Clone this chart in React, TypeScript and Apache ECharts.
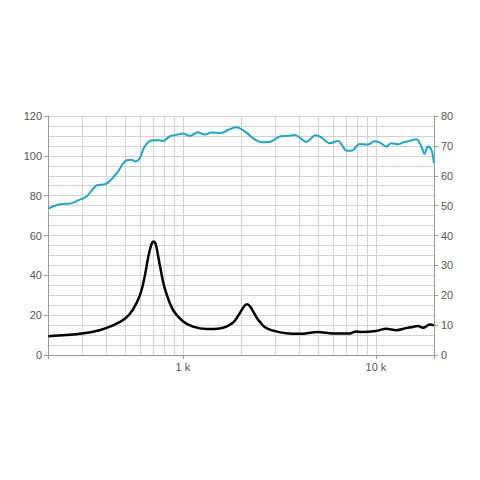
import React, { useEffect, useRef } from "react";
import * as echarts from "echarts";

// Frequency response (SPL, dB, left axis)
const splFreq = [201, 234, 259, 292, 318, 356, 393, 417, 460, 509, 541, 569, 597, 634, 686, 742, 788, 853, 924, 1000, 1083, 1197, 1295, 1403, 1581, 1711, 1891, 1970, 2130, 2351, 2599, 2871, 3170, 3500, 3792, 4024, 4357, 4872, 5213, 5756, 6357, 7025, 7460, 8238, 9098, 9845, 10450, 11320, 12020, 13010, 13800, 14950, 16190, 17190, 17880, 18590, 19360, 19970];
const splValues = [73.5, 75.8, 76, 78, 79.7, 85, 85.7, 87.2, 92, 97.7, 98, 97.2, 98.8, 104.7, 107.7, 107.8, 107.5, 109.7, 110.5, 111.2, 110, 111.8, 110.7, 111.7, 111.5, 113, 114.3, 113.8, 111.8, 108.3, 106.8, 107.2, 109.7, 110, 110.5, 109.2, 107, 110.3, 109.3, 106.3, 107.5, 102.7, 102.5, 106, 105.7, 107.3, 106.8, 104.7, 106.3, 105.8, 106.7, 107.5, 108.3, 104.7, 101, 104.7, 103.3, 96.3];

// Impedance (ohm, right axis)
const impFreq = [201, 249, 300, 370, 434, 500, 551, 600, 634, 660, 685, 705, 722, 740, 765, 804, 887, 1000, 1127, 1321, 1549, 1816, 1970, 2060, 2140, 2220, 2330, 2448, 2650, 3000, 3433, 4024, 5007, 5986, 7305, 7913, 8394, 10000, 11320, 12760, 14360, 15550, 16500, 17530, 19040, 19970];
const impValues = [6.3, 6.7, 7.2, 8.3, 9.9, 12.1, 15.2, 20.2, 26.3, 32.5, 36.8, 38.0, 37.2, 34.0, 29.0, 22.5, 15.2, 11.3, 9.5, 8.7, 8.9, 10.8, 14.0, 16.0, 17.0, 16.4, 14.2, 11.9, 9.4, 8.0, 7.3, 7.1, 7.7, 7.2, 7.2, 7.9, 7.7, 8.0, 8.8, 8.3, 9.0, 9.4, 9.7, 9.1, 10.2, 9.9];

const minorFreqs = [300, 400, 500, 600, 700, 800, 900, 2000, 3000, 4000, 5000, 6000, 7000, 8000, 9000];
const xLabels: Record<number, string> = { 1000: "1 k", 10000: "10 k" };

const gridColor = "#d2d2d2";
const textStyle = { color: "#555555", fontFamily: "Liberation Sans, Arial, sans-serif", fontSize: 11 };

export default function App() {
  const ref = useRef<HTMLDivElement>(null);
  useEffect(() => {
    if (!ref.current) return;
    const chart = echarts.init(ref.current, null, { renderer: "svg" });
    chart.setOption({
      animation: false,
      backgroundColor: "#ffffff",
      grid: { left: 48, right: 46, top: 116, bottom: 125 },
      xAxis: {
        type: "log",
        logBase: 10,
        min: 200,
        max: 20000,
        axisLine: { show: true, lineStyle: { color: "#999" } },
        axisTick: { show: true, length: 4, lineStyle: { color: "#999" } },
        axisLabel: {
          ...textStyle,
          margin: 6,
          formatter: (v: number) => xLabels[Math.round(v)] ?? "",
        },
        splitLine: { show: true, lineStyle: { color: gridColor, width: 1 } },
        minorTick: { show: false },
      },
      yAxis: [
        {
          type: "value",
          min: 0,
          max: 120,
          interval: 20,
          position: "left",
          axisLine: { show: true, lineStyle: { color: "#999" } },
          axisTick: { show: true, length: 4, lineStyle: { color: "#999" } },
          axisLabel: { ...textStyle, margin: 6 },
          splitLine: { show: true, lineStyle: { color: gridColor, width: 1 } },
          minorTick: { show: false, splitNumber: 4 },
          minorSplitLine: { show: true, lineStyle: { color: gridColor, width: 1 } },
        },
        {
          type: "value",
          min: 0,
          max: 80,
          interval: 10,
          position: "right",
          axisLine: { show: true, lineStyle: { color: "#999" } },
          axisTick: { show: true, length: 4, lineStyle: { color: "#999" } },
          axisLabel: { ...textStyle, margin: 7 },
          splitLine: { show: false },
        },
      ],
      series: [
        {
          name: "SPL",
          type: "line",
          yAxisIndex: 0,
          data: splFreq.map((f, i) => [f, splValues[i]]),
          showSymbol: false,
          smooth: 0.35,
          lineStyle: { color: "#1fa5c9", width: 2 },
          z: 3,
          markLine: {
            silent: true,
            symbol: "none",
            label: { show: false },
            lineStyle: { color: gridColor, width: 1, type: "solid" },
            data: minorFreqs.map((f) => ({ xAxis: f })),
            z: 1,
          },
        },
        {
          name: "Impedance",
          type: "line",
          yAxisIndex: 1,
          data: impFreq.map((f, i) => [f, impValues[i]]),
          showSymbol: false,
          smooth: 0.35,
          lineStyle: { color: "#000000", width: 2.5 },
          z: 4,
        },
      ],
    });
    return () => chart.dispose();
  }, []);
  return <div ref={ref} style={{ position: "absolute", left: 0, top: 0, width: 480, height: 480 }} />;
}
